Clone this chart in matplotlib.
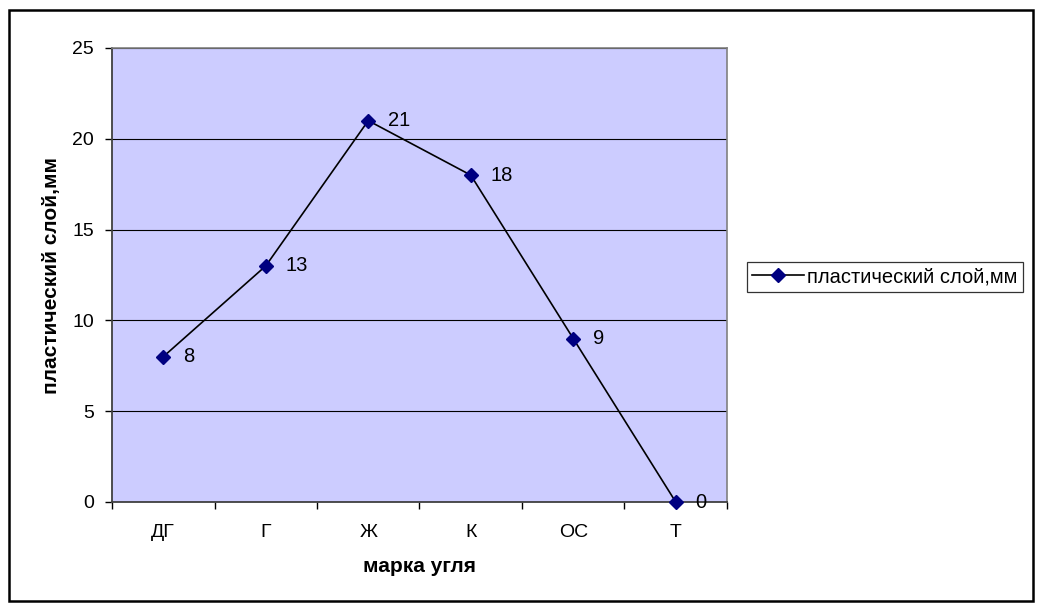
import matplotlib
matplotlib.use("Agg")
import matplotlib.pyplot as plt
from matplotlib.lines import Line2D
from matplotlib.patches import Rectangle

plt.rcParams['font.family'] = ['Liberation Sans', 'DejaVu Sans']

# ----------------------------- data -----------------------------
categories = ['ДГ', 'Г', 'Ж', 'К', 'ОС', 'Т']
values     = [8, 13, 21, 18, 9, 0]
series     = 'пластический слой,мм'
xlabel     = 'марка угля'
ylabel     = 'пластический слой,мм'

# ----------------------------- plot -----------------------------
fig = plt.figure(figsize=(10.42, 6.10), dpi=100)
ax = fig.add_axes([112/1042, 1 - 502/610, (727 - 112)/1042, (502 - 48)/610])
ax.set_facecolor('#CCCCFF')

x = list(range(len(categories)))
ax.plot(x, values, color='black', lw=1.2, marker='D', ms=7,
        mfc='#000080', mec='#000080', zorder=3, clip_on=False)
for xi, v in zip(x, values):
    ax.annotate(str(v), (xi, v), xytext=(20, 0), textcoords='offset pixels',
                ha='left', va='center', fontsize=14.5, zorder=4)

ax.set_xlim(-0.5, len(categories) - 0.5)
ax.set_ylim(0, 25)
ax.set_yticks(range(0, 26, 5))
ax.set_xticks(x)
ax.set_xticklabels(categories)
ax.set_xticks([i - 0.5 for i in range(len(categories) + 1)], minor=True)
ax.tick_params(axis='x', which='major', length=0, pad=15.5, labelsize=14)
ax.tick_params(axis='x', which='minor', length=5, width=1, direction='out')
ax.tick_params(axis='y', length=5, width=1, direction='out', pad=8, labelsize=14)

ax.grid(axis='y', color='black', lw=0.8)
ax.set_axisbelow(True)
for side in ['top', 'right']:
    ax.spines[side].set_color('#808080')
    ax.spines[side].set_linewidth(1.2)
for side in ['left', 'bottom']:
    ax.spines[side].set_color('#404040')
    ax.spines[side].set_linewidth(1.3)

ax.set_xlabel(xlabel, fontsize=15, fontweight='bold')
ax.set_ylabel(ylabel, fontsize=15, fontweight='bold')
ax.xaxis.set_label_coords(0.5, -0.121)
ax.yaxis.set_label_coords(-0.083, 0.5)

handle = Line2D([], [], color='black', lw=1.2, marker='D', ms=7,
                mfc='#000080', mec='#000080')
leg = fig.legend([handle], [series], loc='center left',
                 bbox_to_anchor=(747/1042, 1 - 277/610), fontsize=14.5,
                 frameon=True, fancybox=False, borderpad=0.25,
                 handlelength=2.6, handletextpad=0.15, borderaxespad=0)
leg.get_frame().set_edgecolor('black')
leg.get_frame().set_linewidth(0.9)

fig.patches.append(Rectangle((9/1042, 1 - 601/610), 1024/1042, 591/610,
                             transform=fig.transFigure, fill=False,
                             edgecolor='black', lw=1.8))

fig.savefig('out.png', dpi=100)
